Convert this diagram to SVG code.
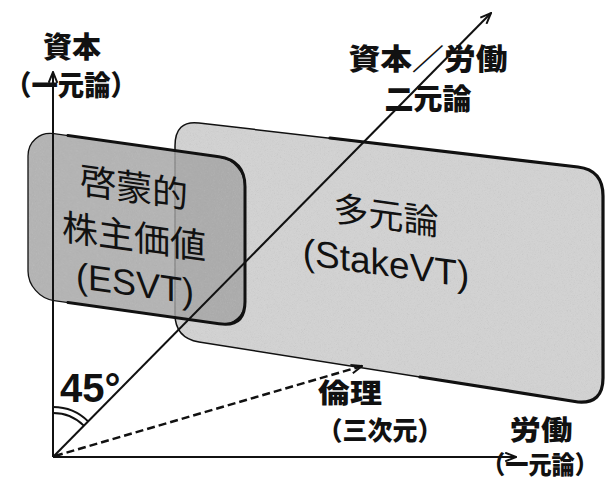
<svg xmlns="http://www.w3.org/2000/svg" width="605" height="485" viewBox="0 0 605 485">
  <style>
    .jp { font-family: "Noto Sans CJK JP", "Noto Sans CJK SC", sans-serif; font-weight: 900; fill: #111; }
    .box-jp { font-family: "Noto Sans CJK JP", "Noto Sans CJK SC", sans-serif; font-weight: normal; fill: #111; }
    .lat { font-family: "Liberation Sans", Arial, sans-serif; fill: #111; }
    .axis { stroke: #111; stroke-width: 2; fill: none; }
    .dash { stroke: #111; stroke-width: 2.5; fill: none; stroke-dasharray: 8 4; }
    .edge { fill: none; stroke: #111; stroke-linecap: round; stroke-linejoin: round; }
  </style>
  <defs>
    <marker id="arrow" viewBox="0 0 12 10" refX="11" refY="5" markerWidth="13" markerHeight="11" markerUnits="userSpaceOnUse" orient="auto">
      <path d="M1,1 L11,5 L1,9" fill="none" stroke="#111" stroke-width="1.8"/>
    </marker>
    <filter id="grain" x="0" y="0" width="100%" height="100%">
      <feTurbulence type="fractalNoise" baseFrequency="1.3" numOctaves="1" seed="4" result="noise"/>
      <feColorMatrix in="noise" type="saturate" values="0" result="gray"/>
      <feComponentTransfer in="gray" result="dots">
        <feFuncA type="table" tableValues="0 0 0.18 0.35"/>
      </feComponentTransfer>
      <feComposite in="dots" in2="SourceGraphic" operator="in" result="clipped"/>
      <feMerge>
        <feMergeNode in="SourceGraphic"/>
        <feMergeNode in="clipped"/>
      </feMerge>
    </filter>
  </defs>

  <rect width="605" height="485" fill="#fff"/>

  <!-- right box: pluralism -->
  <g id="node-stakevt">
    <path d="M175,146 Q175,120 199,123 L578,167 Q603,170 603,196 L603,378 Q603,404 578,402 L199,342 Q175,338 175,314 Z" fill="#d3d3d3" filter="url(#grain)"/>
    <path d="M175,146 Q175,120 199,123 L578,167 Q603,170 603,196 L603,378 Q603,404 578,402 L199,342 Q175,338 175,314 Z" class="edge" stroke-width="1.5"/>
    <path d="M330,138 L578,167 Q603,170 603,196 L603,378 Q603,404 578,402 L420,377" class="edge" stroke-width="3.2"/>
    <g transform="translate(386,228) skewY(8)">
      <text x="0" y="0" class="box-jp" font-size="35" text-anchor="middle">多元論</text>
      <text x="0" y="48" class="lat" font-size="37" text-anchor="middle">(StakeVT)</text>
    </g>
  </g>

  <!-- left box: enlightened shareholder value -->
  <g id="node-esvt" transform="translate(28,130) skewY(8)">
    <rect x="0" y="0" width="217" height="167" rx="26" ry="26" fill="#a2a2a2" fill-opacity="0.82" filter="url(#grain)"/>
    <rect x="0" y="0" width="217" height="167" rx="26" ry="26" class="edge" stroke-width="1.3" stroke="#333"/>
    <path d="M40,0 L191,0 Q217,0 217,26 L217,141 Q217,167 191,167 L40,167" class="edge" stroke-width="3"/>
    <text x="106" y="56" class="box-jp" font-size="36" text-anchor="middle">啓蒙的</text>
    <text x="106" y="105" class="box-jp" font-size="36" text-anchor="middle">株主価値</text>
    <text x="107" y="151" class="lat" font-size="36" text-anchor="middle">(ESVT)</text>
  </g>

  <!-- connectors / axes -->
  <g id="connectors">
    <line x1="53" y1="457" x2="53" y2="72" class="axis" marker-end="url(#arrow)"/>
    <line x1="53" y1="457" x2="516" y2="457" class="axis" marker-end="url(#arrow)"/>
    <line x1="53" y1="457" x2="491" y2="13" class="axis" marker-end="url(#arrow)"/>
    <line x1="55" y1="456" x2="362" y2="366" class="dash" marker-end="url(#arrow)"/>
    <path d="M53,407 A50,50 0 0 1 88.4,421.6" class="axis" stroke-width="1.8"/>
    <path d="M53,413 A44,44 0 0 1 84.1,425.9" class="axis" stroke-width="1.8"/>
  </g>

  <!-- labels -->
  <g id="label-capital">
    <text x="72" y="58" class="jp" font-size="29" text-anchor="middle">資本</text>
    <text x="71" y="96" class="jp" font-size="28" text-anchor="middle" textLength="132" lengthAdjust="spacingAndGlyphs">（一元論）</text>
  </g>
  <g id="label-dual">
    <text x="428" y="70" class="jp" font-size="29" text-anchor="middle" textLength="159" lengthAdjust="spacingAndGlyphs">資本／労働</text>
    <text x="428" y="110" class="jp" font-size="29" text-anchor="middle">二元論</text>
  </g>
  <g id="label-ethics">
    <text x="350" y="403" class="jp" font-size="27" text-anchor="middle" textLength="64" lengthAdjust="spacingAndGlyphs">倫理</text>
    <text x="380" y="440" class="jp" font-size="26" text-anchor="middle" textLength="125" lengthAdjust="spacingAndGlyphs">（三次元）</text>
  </g>
  <g id="label-labor">
    <text x="541" y="440" class="jp" font-size="27" text-anchor="middle" textLength="63" lengthAdjust="spacingAndGlyphs">労働</text>
    <text x="540" y="474" class="jp" font-size="25" text-anchor="middle" textLength="116" lengthAdjust="spacingAndGlyphs">（一元論）</text>
  </g>
  <g id="label-angle">
    <text x="60" y="402" class="lat" font-size="40" font-weight="bold">45°</text>
  </g>
</svg>
